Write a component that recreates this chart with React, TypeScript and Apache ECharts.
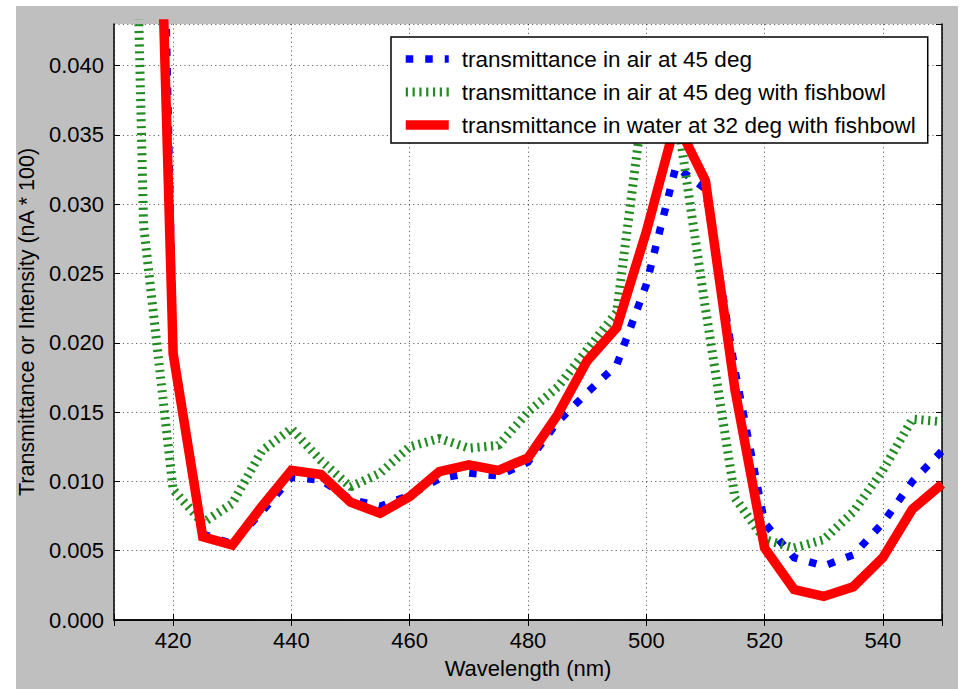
import React, { useEffect, useRef } from "react";
import * as echarts from "echarts";

// Wavelength samples (nm)
const wavelengths = [
  410, 415, 420, 425, 430, 435, 440, 445, 450, 455, 460, 465, 470, 475, 480,
  485, 490, 495, 500, 505, 510, 515, 520, 525, 530, 535, 540, 545, 550,
];

// transmittance in air at 45 deg (blue, dotted squares)
const airValues = [
  null, 0.12, 0.0195, 0.0062, 0.0055, 0.0078, 0.0103, 0.0101, 0.0087, 0.0082,
  0.009, 0.0102, 0.0106, 0.0104, 0.0114, 0.0143, 0.0164, 0.0184, 0.0242,
  0.0327, 0.0311, 0.018, 0.007, 0.0045, 0.0039, 0.0047, 0.007, 0.01, 0.0122,
];

// transmittance in air at 45 deg with fishbowl (green, hatched)
const fishbowlValues = [
  0.12, 0.0285, 0.0094, 0.007, 0.0084, 0.0122, 0.0138, 0.0115, 0.0096, 0.0106,
  0.0125, 0.0131, 0.0124, 0.0126, 0.015, 0.0168, 0.0195, 0.0222, 0.039, 0.037,
  0.0225, 0.0088, 0.0058, 0.0052, 0.0058, 0.0078, 0.0108, 0.0145, 0.0143,
];

// transmittance in water at 32 deg with fishbowl (red, solid)
const waterValues = [
  null, 0.095, 0.0192, 0.006, 0.0054, 0.0082, 0.0108, 0.0105, 0.0085, 0.0077,
  0.0089, 0.0107, 0.0112, 0.0108, 0.0117, 0.0148, 0.0187, 0.0211, 0.028,
  0.036, 0.0317, 0.0166, 0.0052, 0.0022, 0.0017, 0.0024, 0.0045, 0.008, 0.0098,
];

const seriesNames = [
  "transmittance in air at 45 deg",
  "transmittance in air at 45 deg with fishbowl",
  "transmittance in water at 32 deg with fishbowl",
];

const xLabelStep = 20;
const yLabelStep = 0.005;
const xRange = [410, 550];
const yRange = [0, 0.043];

const FONT = "'Liberation Sans', Arial, Helvetica, sans-serif";

const blueStyle = { color: "#0000ff", width: 7.5, type: [7.5, 12] as any, cap: "butt" as const };
const greenStyle = { color: "#228b22", width: 9, type: [2.2, 4.6] as any, cap: "butt" as const };
const redStyle = { color: "#ff0000", width: 9.5, type: "solid" as const, cap: "butt" as const };

function pair(xs: number[], ys: (number | null)[]) {
  return xs.map((x, i) => [x, ys[i]]);
}

function isMultiple(v: number, step: number) {
  const r = v / step;
  return Math.abs(r - Math.round(r)) < 1e-6;
}

export default function App() {
  const ref = useRef<HTMLDivElement>(null);

  useEffect(() => {
    if (!ref.current) return;
    const chart = echarts.init(ref.current, null, { renderer: "svg" });

    const tickStyle = { inside: true, length: 6, lineStyle: { color: "#000", width: 1 } };
    const axisLineStyle = { show: true, lineStyle: { color: "#000", width: 1.5 } };
    const splitStyle = {
      show: true,
      lineStyle: { color: "#000", opacity: 0.6, width: 1, type: [1.2, 3.2] as any },
    };
    const hiddenSymbol = { opacity: 0, borderWidth: 0 };

    chart.setOption({
      animation: false,
      backgroundColor: "transparent",
      grid: {
        left: 114,
        top: 24,
        right: 21,
        bottom: 69,
        show: true,
        backgroundColor: "#ffffff",
        borderWidth: 0,
      },
      legend: {
        show: true,
        orient: "vertical",
        left: 391,
        top: 37,
        z: 20,
        backgroundColor: "#ffffff",
        borderColor: "#000",
        borderWidth: 1.5,
        borderRadius: 0,
        padding: [10, 12, 6, 10],
        itemWidth: 43,
        itemHeight: 12,
        itemGap: 9,
        textStyle: {
          fontFamily: FONT,
          fontSize: 22.5,
          color: "#000",
          lineHeight: 24,
          padding: [0, 0, 0, 8],
        },
        data: [
          { name: seriesNames[0], itemStyle: hiddenSymbol, lineStyle: blueStyle },
          { name: seriesNames[1], itemStyle: hiddenSymbol, lineStyle: greenStyle },
          { name: seriesNames[2], itemStyle: hiddenSymbol, lineStyle: redStyle },
        ],
      },
      xAxis: [
        {
          type: "value",
          min: xRange[0],
          max: xRange[1],
          splitNumber: 7,
          position: "bottom",
          name: "Wavelength (nm)",
          nameLocation: "middle",
          nameGap: 37,
          nameTextStyle: { fontFamily: FONT, fontSize: 22, color: "#000" },
          axisLine: axisLineStyle,
          axisTick: tickStyle,
          axisLabel: {
            fontFamily: FONT,
            fontSize: 22,
            color: "#000",
            margin: 9,
            formatter: (v: number) =>
              isMultiple(v, xLabelStep) && v > xRange[0] && v < xRange[1] ? String(v) : "",
          },
          splitLine: splitStyle,
        },
        {
          type: "value",
          min: xRange[0],
          max: xRange[1],
          splitNumber: 7,
          position: "top",
          axisLine: axisLineStyle,
          axisTick: tickStyle,
          axisLabel: { show: false },
          splitLine: { show: false },
        },
      ],
      yAxis: [
        {
          type: "value",
          min: yRange[0],
          max: yRange[1],
          interval: yLabelStep,
          position: "left",
          name: "Transmittance or Intensity (nA * 100)",
          nameLocation: "middle",
          nameGap: 68,
          nameTextStyle: { fontFamily: FONT, fontSize: 21.5, color: "#000" },
          axisLine: axisLineStyle,
          axisTick: tickStyle,
          axisLabel: {
            fontFamily: FONT,
            fontSize: 22,
            color: "#000",
            margin: 10,
            showMaxLabel: false,
            formatter: (v: number) => (isMultiple(v, yLabelStep) ? v.toFixed(3) : ""),
          },
          splitLine: splitStyle,
        },
        {
          type: "value",
          min: yRange[0],
          max: yRange[1],
          interval: yLabelStep,
          position: "right",
          axisLine: axisLineStyle,
          axisTick: tickStyle,
          axisLabel: { show: false },
          splitLine: { show: false },
        },
      ],
      series: [
        {
          name: seriesNames[0],
          type: "line",
          data: pair(wavelengths, airValues),
          showSymbol: false,
          symbol: "none",
          clip: true,
          color: "#0000ff",
          lineStyle: { ...blueStyle, join: "miter" },
          z: 2,
        },
        {
          name: seriesNames[1],
          type: "line",
          data: pair(wavelengths, fishbowlValues),
          showSymbol: false,
          symbol: "none",
          clip: true,
          color: "#228b22",
          lineStyle: greenStyle,
          z: 2,
        },
        {
          name: seriesNames[2],
          type: "line",
          data: pair(wavelengths, waterValues),
          showSymbol: false,
          symbol: "none",
          clip: true,
          color: "#ff0000",
          lineStyle: { ...redStyle, join: "miter" },
          z: 2,
        },
      ],
    });

    return () => chart.dispose();
  }, []);

  return (
    <div style={{ position: "fixed", left: 0, top: 0, width: 963, height: 689, background: "#ffffff" }}>
      <div style={{ position: "absolute", left: 16, top: 6, width: 942, height: 683, background: "#bfbfbf" }} />
      <div ref={ref} style={{ position: "absolute", left: 0, top: 0, width: 963, height: 689 }} />
    </div>
  );
}
